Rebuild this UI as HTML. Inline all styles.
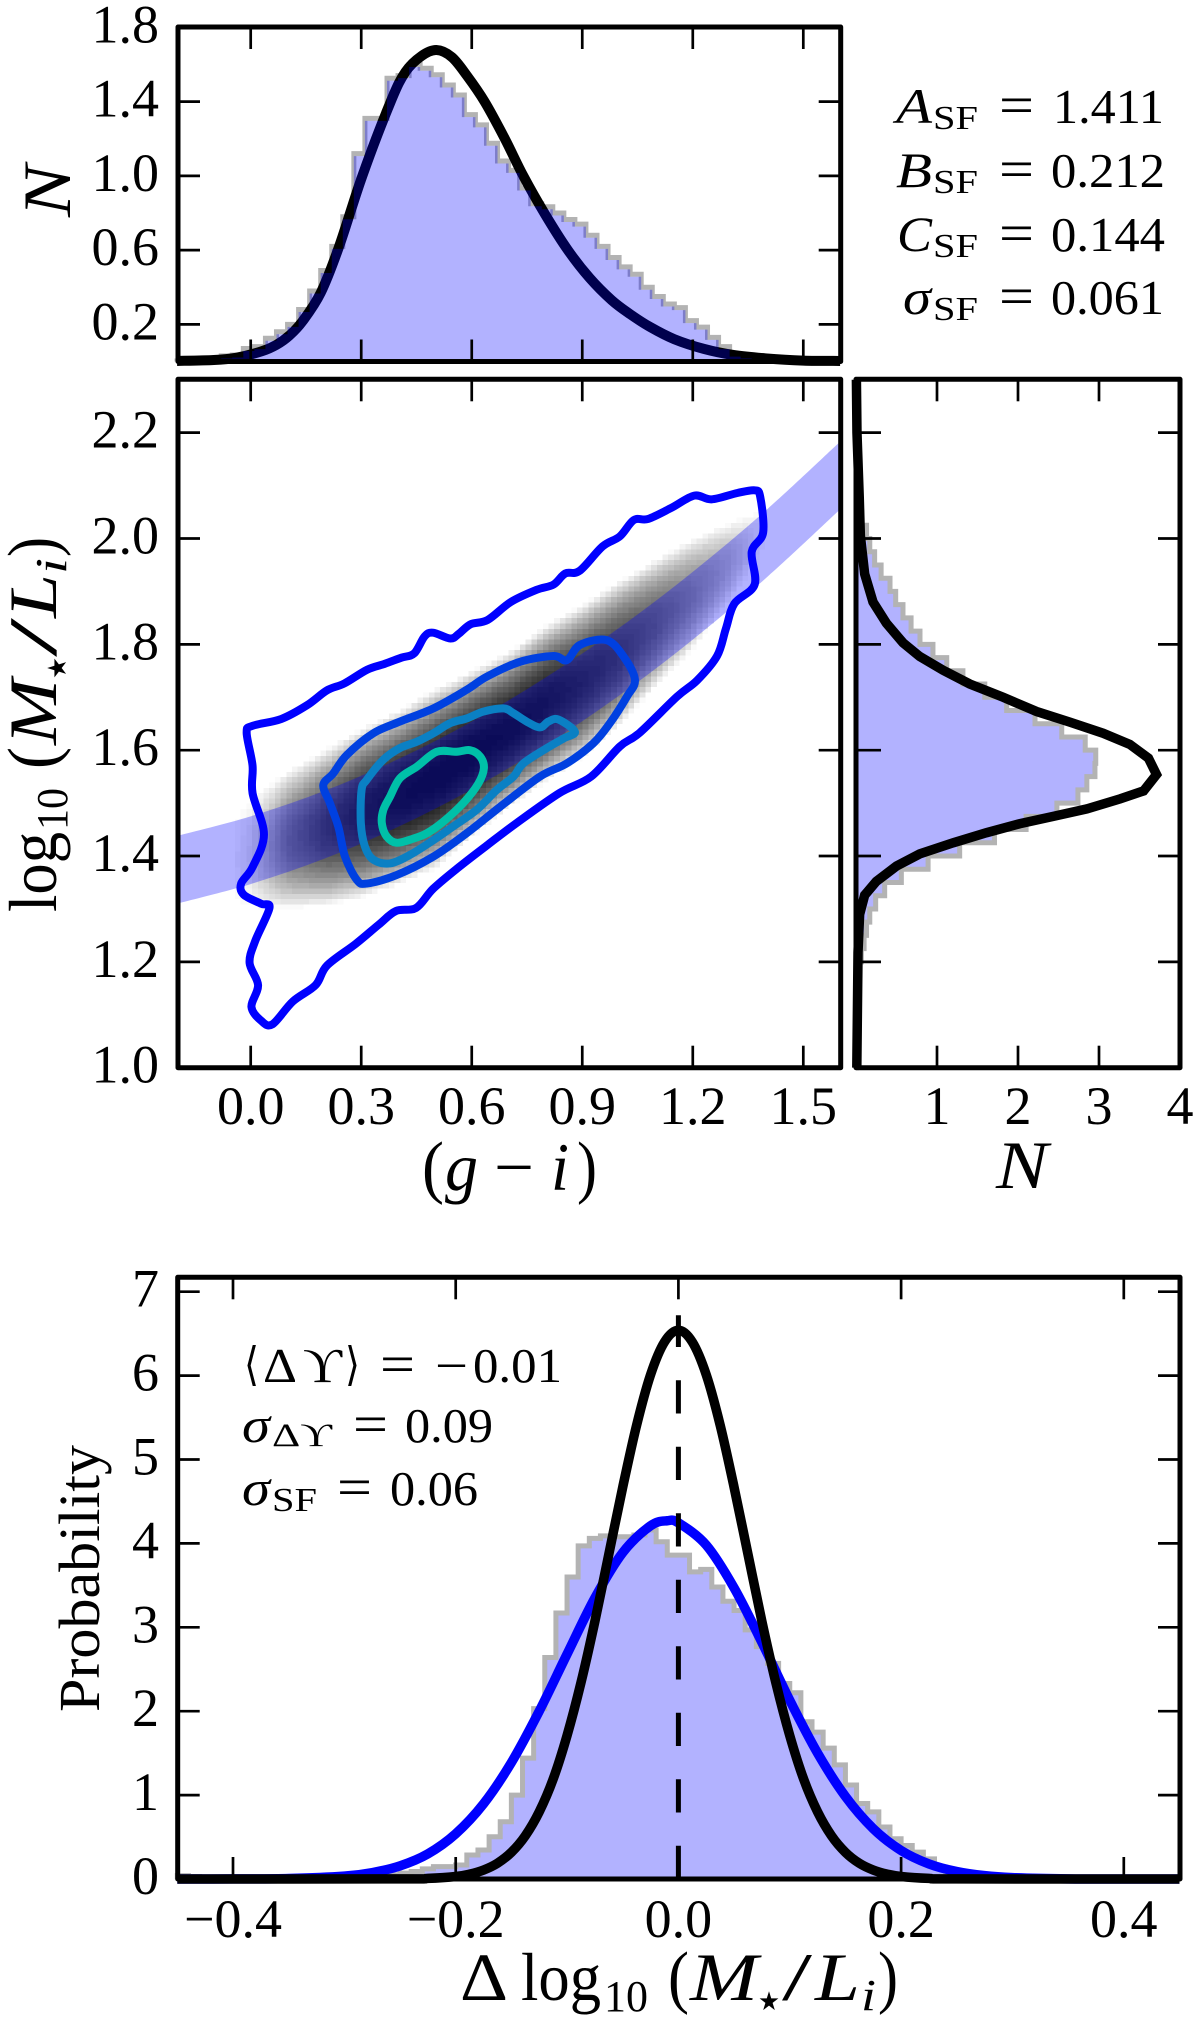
<!DOCTYPE html>
<html lang="en">
<head>
<meta charset="utf-8">
<title>Stellar mass-to-light relation</title>
<style>
html,body{margin:0;padding:0;background:#fff;}
svg{display:block;}
text{font-family:"Liberation Serif","DejaVu Serif",serif;fill:#000;}
.it{font-style:italic;}
</style>
</head>
<body>
<svg id="chart" xmlns="http://www.w3.org/2000/svg" width="1200" height="2023" viewBox="0 0 1200 2023">
<defs>
<clipPath id="midClip"><rect x="178" y="379.5" width="662.5" height="688"/></clipPath>
</defs>
<rect x="0" y="0" width="1200" height="2023" fill="#fff"/>
<g id="topPanel"></g>
<g id="midPanel" ></g>
<g id="sidePanel"></g>
<g id="botPanel"></g>
<g id="axisText" font-size="54"></g>

<text class="it" font-size="68" textLength="52" lengthAdjust="spacingAndGlyphs" transform="translate(70,217) rotate(-90)">N</text>

<g transform="translate(56,912) rotate(-90)">
<text font-size="68" x="0" y="0" textLength="80" lengthAdjust="spacingAndGlyphs">log</text>
<text font-size="44" x="82" y="11" textLength="42" lengthAdjust="spacingAndGlyphs">10</text>
<text font-size="70" x="143" y="0" textLength="22" lengthAdjust="spacingAndGlyphs">(</text>
<text font-size="68" class="it" x="167" y="0" textLength="66" lengthAdjust="spacingAndGlyphs">M</text>
<text font-size="26" x="233" y="10" style="font-family:'DejaVu Sans',sans-serif" textLength="22" lengthAdjust="spacingAndGlyphs">★</text>
<text font-size="68" x="255" y="0" textLength="39" lengthAdjust="spacingAndGlyphs">/</text>
<text font-size="68" class="it" x="294" y="0" textLength="44" lengthAdjust="spacingAndGlyphs">L</text>
<text font-size="44" class="it" x="338" y="10" textLength="16" lengthAdjust="spacingAndGlyphs">i</text>
<text font-size="70" x="355" y="0" textLength="20" lengthAdjust="spacingAndGlyphs">)</text>
</g>

<g>
<text font-size="70" x="422" y="1190" textLength="22" lengthAdjust="spacingAndGlyphs">(</text>
<text font-size="68" class="it" x="445" y="1190" textLength="33" lengthAdjust="spacingAndGlyphs">g</text>
<text font-size="68" x="494" y="1190" textLength="40" lengthAdjust="spacingAndGlyphs">−</text>
<text font-size="68" class="it" x="551" y="1190" textLength="18" lengthAdjust="spacingAndGlyphs">i</text>
<text font-size="70" x="577" y="1190" textLength="20" lengthAdjust="spacingAndGlyphs">)</text>
</g>

<text class="it" font-size="68" x="996" y="1188" textLength="52" lengthAdjust="spacingAndGlyphs">N</text>

<g>
<text class="it" font-size="50" x="896" y="123" textLength="36" lengthAdjust="spacingAndGlyphs">A</text>
<text font-size="34" x="933" y="129" textLength="45" lengthAdjust="spacingAndGlyphs">SF</text>
<text font-size="54" x="999" y="123" textLength="35" lengthAdjust="spacingAndGlyphs">=</text>
<text font-size="49" x="1053" y="123" textLength="111" lengthAdjust="spacingAndGlyphs">1.411</text>
<text class="it" font-size="50" x="896" y="187" textLength="36" lengthAdjust="spacingAndGlyphs">B</text>
<text font-size="34" x="933" y="193" textLength="45" lengthAdjust="spacingAndGlyphs">SF</text>
<text font-size="54" x="999" y="187" textLength="35" lengthAdjust="spacingAndGlyphs">=</text>
<text font-size="49" x="1051" y="187" textLength="114" lengthAdjust="spacingAndGlyphs">0.212</text>
<text class="it" font-size="50" x="897" y="251" textLength="35" lengthAdjust="spacingAndGlyphs">C</text>
<text font-size="34" x="933" y="257" textLength="45" lengthAdjust="spacingAndGlyphs">SF</text>
<text font-size="54" x="999" y="251" textLength="35" lengthAdjust="spacingAndGlyphs">=</text>
<text font-size="49" x="1051" y="251" textLength="114" lengthAdjust="spacingAndGlyphs">0.144</text>
<text class="it" font-size="50" x="903" y="314" textLength="28" lengthAdjust="spacingAndGlyphs">σ</text>
<text font-size="34" x="933" y="320" textLength="45" lengthAdjust="spacingAndGlyphs">SF</text>
<text font-size="54" x="999" y="314" textLength="35" lengthAdjust="spacingAndGlyphs">=</text>
<text font-size="49" x="1051" y="314" textLength="113" lengthAdjust="spacingAndGlyphs">0.061</text>
</g>

<g>
<text font-size="46" x="244" y="1380" style="font-family:'DejaVu Sans',sans-serif" textLength="15" lengthAdjust="spacingAndGlyphs">⟨</text>
<text font-size="49" x="263" y="1382" textLength="34" lengthAdjust="spacingAndGlyphs">Δ</text>
<text font-size="49" x="303" y="1382" textLength="39" lengthAdjust="spacingAndGlyphs">ϒ</text>
<text font-size="46" x="345" y="1380" style="font-family:'DejaVu Sans',sans-serif" textLength="15" lengthAdjust="spacingAndGlyphs">⟩</text>
<text font-size="54" x="380" y="1382" textLength="35" lengthAdjust="spacingAndGlyphs">=</text>
<text font-size="49" x="435" y="1382" textLength="33" lengthAdjust="spacingAndGlyphs">−</text>
<text font-size="49" x="473" y="1382" textLength="89" lengthAdjust="spacingAndGlyphs">0.01</text>
<text class="it" font-size="50" x="242" y="1442" textLength="28" lengthAdjust="spacingAndGlyphs">σ</text>
<text font-size="33" x="272" y="1446" textLength="60" lengthAdjust="spacingAndGlyphs">Δϒ</text>
<text font-size="54" x="353" y="1442" textLength="35" lengthAdjust="spacingAndGlyphs">=</text>
<text font-size="49" x="405" y="1442" textLength="88" lengthAdjust="spacingAndGlyphs">0.09</text>
<text class="it" font-size="50" x="242" y="1505" textLength="28" lengthAdjust="spacingAndGlyphs">σ</text>
<text font-size="34" x="272" y="1511" textLength="45" lengthAdjust="spacingAndGlyphs">SF</text>
<text font-size="54" x="337" y="1505" textLength="35" lengthAdjust="spacingAndGlyphs">=</text>
<text font-size="49" x="390" y="1505" textLength="88" lengthAdjust="spacingAndGlyphs">0.06</text>
</g>

<text font-size="58" textLength="267" lengthAdjust="spacingAndGlyphs" transform="translate(99,1712) rotate(-90)">Probability</text>

<g>
<text font-size="68" x="460" y="2000" textLength="48" lengthAdjust="spacingAndGlyphs">Δ</text>
<text font-size="68" x="521" y="2000" textLength="80" lengthAdjust="spacingAndGlyphs">log</text>
<text font-size="44" x="604" y="2011" textLength="44" lengthAdjust="spacingAndGlyphs">10</text>
<text font-size="70" x="668" y="2000" textLength="21" lengthAdjust="spacingAndGlyphs">(</text>
<text font-size="68" class="it" x="690" y="2000" textLength="68" lengthAdjust="spacingAndGlyphs">M</text>
<text font-size="26" x="758" y="2010" style="font-family:'DejaVu Sans',sans-serif" textLength="22" lengthAdjust="spacingAndGlyphs">★</text>
<text font-size="68" x="782" y="2000" textLength="30" lengthAdjust="spacingAndGlyphs">/</text>
<text font-size="68" class="it" x="815" y="2000" textLength="45" lengthAdjust="spacingAndGlyphs">L</text>
<text font-size="44" class="it" x="861" y="2010" textLength="15" lengthAdjust="spacingAndGlyphs">i</text>
<text font-size="70" x="878" y="2000" textLength="20" lengthAdjust="spacingAndGlyphs">)</text>
</g>
</svg>

<script>
// ---- tick data ----
const colourTicks = [0, 0.3, 0.6, 0.9, 1.2, 1.5];
const colourTickLabels = ['0.0', '0.3', '0.6', '0.9', '1.2', '1.5'];
const topCountTicks = [0.2, 0.6, 1.0, 1.4, 1.8];
const topCountTickLabels = ['0.2', '0.6', '1.0', '1.4', '1.8'];
const massTicks = [1.0, 1.2, 1.4, 1.6, 1.8, 2.0, 2.2];
const massTickLabels = ['1.0', '1.2', '1.4', '1.6', '1.8', '2.0', '2.2'];
const sideCountTicks = [1, 2, 3, 4];
const sideCountTickLabels = ['1', '2', '3', '4'];
const residualTicks = [-0.4, -0.2, 0, 0.2, 0.4];
const residualTickLabels = ['−0.4', '−0.2', '0.0', '0.2', '0.4'];
const probabilityTicks = [0, 1, 2, 3, 4, 5, 6, 7];
const probabilityTickLabels = ['0', '1', '2', '3', '4', '5', '6', '7'];

// ---- top panel: colour distribution ----
const topHistStart = -0.2;
const topHistWidth = 0.03;
const topHistValues = [.003,.003,.006,.012,.03,.035,.07,.08,.125,.16,.2,.28,.38,.49,.62,.78,1.12,1.31,1.31,1.526,1.54,1.60,1.58,1.545,1.49,1.436,1.33,1.275,1.176,1.08,1.03,.935,.85,.834,.80,.765,.74,.68,.62,.56,.51,.47,.40,.35,.31,.29,.22,.185,.13,.08,.04,.03,.025,.018,.012,.008,.005,.003,.002,.001];
const topCurveColour = [-.2,-.1,-.04,.03,.07,.105,.14,.19,.24,.303,.38,.42,.463,.504,.546,.587,.635,.69,.74,.80,.861,.92,.98,1.03,1.085,1.15,1.23,1.31,1.397,1.5,1.6];
const topCurveCount = [.003,.008,.02,.055,.09,.14,.215,.37,.62,1.0,1.4,1.56,1.645,1.678,1.64,1.54,1.40,1.20,1.00,.79,.60,.45,.33,.255,.185,.12,.068,.035,.017,.005,.003];

// ---- main panel ----
const bandColour = [-.2,0,.2,.4,.6,.8,1.0,1.2,1.4,1.6];
const bandUpper = [1.438,1.475,1.523,1.583,1.654,1.737,1.831,1.937,2.054,2.183];
const bandLower = [1.310,1.347,1.395,1.455,1.526,1.609,1.703,1.809,1.926,2.055];
const heatColour = [-.05,0,.1,.2,.3,.4,.5,.6,.7,.8,.9,1.0,1.1,1.2,1.3,1.4];
const heatCentre = [1.39,1.405,1.43,1.4525,1.48,1.51,1.545,1.5925,1.6375,1.6875,1.73,1.7825,1.84,1.895,1.955,2.02];
const heatHalfWidth = [.08,.105,.13,.1475,.16,.165,.17,.158,.1475,.1475,.145,.1375,.12,.105,.075,.04];
const heatPeak = [0,.1,.5,.7,.82,.88,.9,.9,.88,.85,.78,.7,.58,.42,.25,0];
const contourOuter = [[-.011,1.633],[.005,1.646],[.083,1.659],[.153,1.685],[.207,1.713],[.254,1.726],[.316,1.752],[.363,1.763],[.410,1.775],[.444,1.783],[.472,1.815],[.495,1.822],[.542,1.811],[.565,1.820],[.597,1.838],[.643,1.846],[.706,1.880],[.776,1.903],[.822,1.913],[.854,1.934],[.893,1.939],[.955,1.985],[1.002,2.004],[1.040,2.035],[1.079,2.037],[1.142,2.058],[1.204,2.081],[1.251,2.074],[1.321,2.086],[1.368,2.091],[1.383,2.079],[1.391,2.011],[1.360,1.975],[1.368,1.913],[1.313,1.877],[1.290,1.830],[1.266,1.778],[1.212,1.732],[1.157,1.701],[1.056,1.633],[1.002,1.607],[.924,1.550],[.838,1.519],[.721,1.462],[.643,1.421],[.565,1.379],[.495,1.338],[.449,1.302],[.394,1.296],[.347,1.270],[.285,1.234],[.207,1.193],[.176,1.156],[.114,1.125],[.059,1.082],[.028,1.089],[.002,1.115],[.020,1.156],[-.003,1.198],[.012,1.239],[.051,1.302],[.028,1.310],[-.019,1.327],[-.026,1.348],[.005,1.379],[.036,1.441],[.005,1.519],[.005,1.571]];
const contourSecond = [[.197,1.534],[.224,1.556],[.261,1.591],[.333,1.632],[.405,1.654],[.496,1.679],[.586,1.714],[.641,1.739],[.731,1.767],[.822,1.778],[.858,1.770],[.894,1.799],[.966,1.808],[1.012,1.777],[1.043,1.733],[1.021,1.701],[.975,1.651],[.930,1.613],[.858,1.575],[.785,1.550],[.677,1.493],[.586,1.443],[.496,1.399],[.396,1.364],[.315,1.348],[.288,1.355],[.256,1.399],[.238,1.455],[.215,1.500]];
const contourThird = [[.301,1.525],[.315,1.544],[.360,1.582],[.405,1.604],[.451,1.616],[.496,1.632],[.541,1.651],[.586,1.660],[.632,1.673],[.686,1.679],[.713,1.670],[.749,1.654],[.785,1.643],[.808,1.654],[.835,1.658],[.880,1.635],[.849,1.622],[.804,1.604],[.740,1.575],[.713,1.550],[.668,1.525],[.613,1.487],[.550,1.456],[.496,1.430],[.432,1.402],[.378,1.386],[.333,1.393],[.310,1.418],[.299,1.462]];
const contourInner = [[.360,1.487],[.378,1.512],[.405,1.547],[.451,1.569],[.505,1.597],[.559,1.597],[.595,1.600],[.623,1.588],[.633,1.566],[.618,1.537],[.577,1.500],[.523,1.465],[.478,1.443],[.442,1.433],[.396,1.425],[.369,1.437],[.356,1.462]];

// ---- side panel: mass-to-light distribution ----
const sideHistStart = 1.0;
const sideHistWidth = 0.025;
const sideHistValues = [.005,.01,.015,.02,.025,.03,.04,.05,.066,.1,.13,.17,.243,.354,.56,.89,1.28,1.71,2.1,2.48,2.74,2.85,2.95,2.96,2.83,2.54,2.21,1.86,1.59,1.32,1.12,.95,.79,.68,.58,.49,.42,.31,.23,.17,.13,.07,.04,.02,.01,.005,.003,.002,.001,.001,0,0];
const sideCurveMass = [2.3,2.2,2.078,2.005,1.933,1.88,1.84,1.803,1.777,1.751,1.725,1.70,1.673,1.653,1.632,1.611,1.585,1.554,1.523,1.508,1.489,1.475,1.461,1.444,1.425,1.404,1.381,1.352,1.326,1.29,1.218,1.0];
const sideCurveCount = [.005,.012,.04,.054,.107,.21,.375,.58,.787,1.075,1.405,1.817,2.23,2.64,3.05,3.38,3.61,3.71,3.55,3.26,2.85,2.435,2.02,1.61,1.2,.787,.5,.25,.107,.045,.025,.01];

// ---- bottom panel: residuals ----
const residualHistStart = -0.45;
const residualHistWidth = 0.01;
const residualHistValues = [.04,.03,.01,.003,.003,.003,.003,.003,.003,.003,.003,.003,.003,.003,.003,.003,.01,.02,.03,.05,.07,.09,.12,.147,.147,.167,.286,.345,.504,.683,1.0,1.44,2.03,2.64,3.17,3.6,3.97,4.06,4.09,4.08,4.08,4.1,4.16,4.02,3.86,3.86,3.66,3.69,3.48,3.31,3.2,2.97,2.77,2.57,2.33,2.22,1.875,1.75,1.56,1.36,1.12,.9,.8,.62,.48,.40,.32,.24,.14,.09,.06,.04,.03,.02,.01,.003,.003,.003,.003,.003,.003,.003,.003,.003,.003,.003,.003,.003,.003,.003];
const blueCurveResidual = [-.45,-.4,-.35,-.3,-.275,-.25,-.225,-.2,-.175,-.15,-.125,-.1,-.075,-.05,-.025,-.01,0,.025,.05,.075,.1,.125,.15,.175,.2,.225,.25,.275,.3,.35,.4,.45];
const blueCurveProbability = [0,.001,.006,.034,.076,.157,.30,.539,.896,1.388,2.0,2.68,3.35,3.89,4.21,4.27,4.245,3.98,3.47,2.82,2.13,1.50,.984,.60,.34,.18,.089,.04,.017,.002,0,0];
const blackCurveResidual = [-.45,-.25,-.225,-.2,-.1875,-.175,-.1625,-.15,-.1375,-.125,-.1125,-.1,-.0875,-.075,-.0625,-.05,-.0375,-.025,-.0125,0,.0125,.025,.0375,.05,.0625,.075,.0875,.1,.1125,.125,.1375,.15,.1625,.175,.1875,.2,.225,.25,.45];
const blackCurveProbability = [0,.001,.007,.03,.058,.107,.188,.318,.515,.80,1.19,1.71,2.34,3.07,3.87,4.67,5.41,6.01,6.40,6.54,6.40,6.01,5.41,4.67,3.87,3.07,2.34,1.71,1.19,.80,.515,.318,.188,.107,.058,.03,.007,.001,0];
const referenceLineResidual = 0;
const referenceLineTop = 6.72;

// ---- axis functions ----
function colourX(v) { return 250.7 + 368.4 * v; }
function topY(v) { return 361.5 - 185.6 * v; }
function massY(v) { return 1067.7 - 529.2 * (v - 1); }
function sideX(v) { return 856 + 81 * v; }
function residualX(v) { return 678.4 + 1113.5 * v; }
function probabilityY(v) { return 1879 - 83.9 * v; }

const SVGNS = 'http://www.w3.org/2000/svg';
function make(parent, tag) {
  const e = document.createElementNS(SVGNS, tag);
  parent.appendChild(e);
  return e;
}
function setAll(e, attrs) {
  for (const k in attrs) e.setAttribute(k, attrs[k]);
}
function smoothPath(pts, closed) {
  const n = pts.length;
  const at = function (i) {
    if (closed) return pts[(i + n) % n];
    return pts[Math.max(0, Math.min(n - 1, i))];
  };
  let d = 'M' + pts[0][0].toFixed(2) + ' ' + pts[0][1].toFixed(2);
  const last = closed ? n : n - 1;
  for (let i = 0; i < last; i++) {
    const p0 = at(i - 1), p1 = at(i), p2 = at(i + 1), p3 = at(i + 2);
    const c1x = p1[0] + (p2[0] - p0[0]) / 6, c1y = p1[1] + (p2[1] - p0[1]) / 6;
    const c2x = p2[0] - (p3[0] - p1[0]) / 6, c2y = p2[1] - (p3[1] - p1[1]) / 6;
    d += 'C' + c1x.toFixed(2) + ' ' + c1y.toFixed(2) + ' ' + c2x.toFixed(2) + ' ' + c2y.toFixed(2) + ' ' + p2[0].toFixed(2) + ' ' + p2[1].toFixed(2);
  }
  return closed ? d + 'Z' : d;
}
function histPathH(start, width, vals, xf, yf) {
  let d = 'M' + xf(start).toFixed(2) + ' ' + yf(0).toFixed(2);
  vals.forEach(function (v, i) {
    const a = xf(start + i * width), b = xf(start + (i + 1) * width), y = yf(v);
    d += 'L' + a.toFixed(2) + ' ' + y.toFixed(2) + 'L' + b.toFixed(2) + ' ' + y.toFixed(2);
  });
  return d + 'L' + xf(start + vals.length * width).toFixed(2) + ' ' + yf(0).toFixed(2);
}
function histPathV(start, width, vals, xf, yf) {
  let d = 'M' + xf(0).toFixed(2) + ' ' + yf(start).toFixed(2);
  vals.forEach(function (v, i) {
    const a = yf(start + i * width), b = yf(start + (i + 1) * width), x = xf(v);
    d += 'L' + x.toFixed(2) + ' ' + a.toFixed(2) + 'L' + x.toFixed(2) + ' ' + b.toFixed(2);
  });
  return d + 'L' + xf(0).toFixed(2) + ' ' + yf(start + vals.length * width).toFixed(2);
}
function interp(xs, ys, x) {
  if (x <= xs[0]) return ys[0];
  for (let i = 1; i < xs.length; i++) {
    if (x <= xs[i]) {
      const t = (x - xs[i - 1]) / (xs[i] - xs[i - 1]);
      return ys[i - 1] + t * (ys[i] - ys[i - 1]);
    }
  }
  return ys[ys.length - 1];
}
const GRAY = '#b3b3b3', FILL = 'rgba(0,0,255,0.3)';

// ---- TOP PANEL ----
const topPanel = document.getElementById('topPanel');
const topOutline = make(topPanel, 'path');


setAll(topOutline, {d: histPathH(topHistStart, topHistWidth, topHistValues, colourX, topY), fill: 'none', stroke: GRAY, 'stroke-width': 5});
const topCurve = make(topPanel, 'path');


setAll(topCurve, {d: smoothPath(topCurveColour.map(function (x, i) { return [colourX(x), topY(topCurveCount[i])]; }), false), fill: 'none', stroke: '#000', 'stroke-width': 10});
const topFill = make(topPanel, 'path');


setAll(topFill, {d: histPathH(topHistStart, topHistWidth, topHistValues, colourX, topY) + 'Z', fill: FILL, stroke: 'none', transform: 'translate(0,2.5)'});

// ---- MAIN PANEL ----
const midPanel = document.getElementById('midPanel');
const midClipped = make(midPanel, 'g');


midClipped.setAttribute('clip-path', 'url(#midClip)');
const heatGroup = make(midClipped, 'g');


const LEVELS = 48, cellW = 5.7, cellH = 5.3;
const levelPaths = [];
for (let px = 178; px < 840.5; px += cellW) {
  const cx = (px + cellW / 2 - 250.7) / 368.4;
  const centre = interp(heatColour, heatCentre, cx);
  const half = interp(heatColour, heatHalfWidth, cx);
  const peak = interp(heatColour, heatPeak, cx);
  if (peak <= 0) continue;
  for (let py = 379.7; py < 1067.5; py += cellH) {
    const m = 1 + (1067.7 - py - cellH / 2) / 529.2;
    const u = Math.abs(m - centre) / half;
    if (u >= 1) continue;
    const dark = Math.min(1, peak * (1 - u * u) * 1.05);
    const lvl = Math.round(dark * LEVELS);
    if (lvl < 1) continue;
    levelPaths[lvl] = (levelPaths[lvl] || '') + 'M' + px.toFixed(1) + ' ' + py.toFixed(1) + 'h' + cellW + 'v' + cellH + 'h-' + cellW + 'z';
  }
}
levelPaths.forEach(function (d, lvl) {
  if (!d) return;
  const cell = make(heatGroup, 'path');
  
  
  const g = Math.round(255 * (1 - lvl / LEVELS));
  setAll(cell, {d: d, fill: 'rgb(' + g + ',' + g + ',' + g + ')', 'shape-rendering': 'crispEdges'});
});
const band = make(midClipped, 'path');


const upperPts = bandColour.map(function (x, i) { return [colourX(x), massY(bandUpper[i])]; });
const lowerPts = bandColour.map(function (x, i) { return [colourX(x), massY(bandLower[i])]; }).reverse();
setAll(band, {d: smoothPath(upperPts, false) + 'L' + smoothPath(lowerPts, false).slice(1) + 'Z', fill: FILL});
function contourPath(c) {
  return smoothPath(c.map(function (p) { return [colourX(p[0]), massY(p[1])]; }), true);
}
const c1 = make(midPanel, 'path');


setAll(c1, {d: contourPath(contourOuter), fill: 'none', stroke: '#0000ff', 'stroke-width': 8, 'stroke-linejoin': 'round'});
const c2 = make(midPanel, 'path');


setAll(c2, {d: contourPath(contourSecond), fill: 'none', stroke: '#0040e0', 'stroke-width': 8, 'stroke-linejoin': 'round'});
const c3 = make(midPanel, 'path');


setAll(c3, {d: contourPath(contourThird), fill: 'none', stroke: '#0a80c4', 'stroke-width': 8, 'stroke-linejoin': 'round'});
const c4 = make(midPanel, 'path');


setAll(c4, {d: contourPath(contourInner), fill: 'none', stroke: '#00c0a8', 'stroke-width': 8, 'stroke-linejoin': 'round'});

// ---- SIDE PANEL ----
const sidePanel = document.getElementById('sidePanel');
const sideFill = make(sidePanel, 'path');


setAll(sideFill, {d: histPathV(sideHistStart, sideHistWidth, sideHistValues, sideX, massY) + 'Z', fill: FILL});
const sideOutline = make(sidePanel, 'path');


setAll(sideOutline, {d: histPathV(sideHistStart, sideHistWidth, sideHistValues, sideX, massY), fill: 'none', stroke: GRAY, 'stroke-width': 5});
const sideCurve = make(sidePanel, 'polyline');


setAll(sideCurve, {points: sideCurveMass.map(function (m, i) { return sideX(sideCurveCount[i]).toFixed(2) + ',' + massY(m).toFixed(2); }).join(' '), fill: 'none', stroke: '#000', 'stroke-width': 9.5, 'stroke-linejoin': 'miter'});

// ---- BOTTOM PANEL ----
const botPanel = document.getElementById('botPanel');
const botFill = make(botPanel, 'path');


setAll(botFill, {d: histPathH(residualHistStart, residualHistWidth, residualHistValues, residualX, probabilityY) + 'Z', fill: FILL});
const botOutline = make(botPanel, 'path');


setAll(botOutline, {d: histPathH(residualHistStart, residualHistWidth, residualHistValues, residualX, probabilityY), fill: 'none', stroke: GRAY, 'stroke-width': 5});
const blueCurve = make(botPanel, 'path');


setAll(blueCurve, {d: smoothPath(blueCurveResidual.map(function (x, i) { return [residualX(x), probabilityY(blueCurveProbability[i])]; }), false), fill: 'none', stroke: '#0000ff', 'stroke-width': 9.5});
const blackCurve = make(botPanel, 'path');


setAll(blackCurve, {d: smoothPath(blackCurveResidual.map(function (x, i) { return [residualX(x), probabilityY(blackCurveProbability[i])]; }), false), fill: 'none', stroke: '#000', 'stroke-width': 9.5});
const refLine = make(botPanel, 'line');


setAll(refLine, {x1: residualX(referenceLineResidual), x2: residualX(referenceLineResidual), y1: probabilityY(0), y2: probabilityY(referenceLineTop), stroke: '#000', 'stroke-width': 5, 'stroke-dasharray': '33.2 33.3'});

// ---- TICKS, SPINES AND LABELS ----
const TICK = 22, TW = 2.7, SW = 5;
function tickLine(parent, x1, y1, x2, y2) {
  const t = make(parent, 'line');
  setAll(t, {x1: x1, y1: y1, x2: x2, y2: y2, stroke: '#000', 'stroke-width': TW});
  return t;
}
function spineRect(parent, x0, y0, x1, y1) {
  const r = make(parent, 'rect');
  setAll(r, {x: x0, y: y0, width: x1 - x0, height: y1 - y0, fill: 'none', stroke: '#000', 'stroke-width': SW, 'stroke-linejoin': 'round'});
  return r;
}
const axisText = document.getElementById('axisText');

// top panel ticks
colourTicks.forEach(function (v) {
  const a = tickLine(topPanel, colourX(v), 27, colourX(v), 27 + TICK);
  
  
  const b = tickLine(topPanel, colourX(v), 361.5, colourX(v), 361.5 - TICK);
  
  
});
topCountTicks.forEach(function (v, i) {
  const a = tickLine(topPanel, 178, topY(v), 178 + TICK, topY(v));
  
  
  const b = tickLine(topPanel, 840.7, topY(v), 840.7 - TICK, topY(v));
  
  
  const t = make(axisText, 'text');
  
  
  setAll(t, {x: 159, y: topY(v) + 15, 'text-anchor': 'end'});
  t.textContent = topCountTickLabels[i];
});
const topSpine = spineRect(topPanel, 178, 27, 840.7, 361.5);



// main panel ticks
colourTicks.forEach(function (v, i) {
  const a = tickLine(midPanel, colourX(v), 379.3, colourX(v), 379.3 + TICK);
  
  
  const b = tickLine(midPanel, colourX(v), 1067.7, colourX(v), 1067.7 - TICK);
  
  
  const t = make(axisText, 'text');
  
  
  setAll(t, {x: colourX(v), y: 1124, 'text-anchor': 'middle'});
  t.textContent = colourTickLabels[i];
});
massTicks.forEach(function (v, i) {
  const a = tickLine(midPanel, 178, massY(v), 178 + TICK, massY(v));
  
  
  const b = tickLine(midPanel, 840.7, massY(v), 840.7 - TICK, massY(v));
  
  
  const c = tickLine(sidePanel, 856, massY(v), 856 + TICK + 3, massY(v));
  
  
  const d = tickLine(sidePanel, 1180, massY(v), 1180 - TICK, massY(v));
  
  
  const t = make(axisText, 'text');
  
  
  setAll(t, {x: 159, y: massY(v) + 15, 'text-anchor': 'end'});
  t.textContent = massTickLabels[i];
});
const midSpine = spineRect(midPanel, 178, 379.3, 840.7, 1067.7);



// side panel ticks
sideCountTicks.forEach(function (v, i) {
  const a = tickLine(sidePanel, sideX(v), 379.3, sideX(v), 379.3 + TICK);
  
  
  const b = tickLine(sidePanel, sideX(v), 1067.7, sideX(v), 1067.7 - TICK);
  
  
  const t = make(axisText, 'text');
  
  
  setAll(t, {x: sideX(v), y: 1124, 'text-anchor': 'middle'});
  t.textContent = sideCountTickLabels[i];
});
const sideSpine = spineRect(sidePanel, 856, 379.3, 1180, 1067.7);



// bottom panel ticks
residualTicks.forEach(function (v, i) {
  const a = tickLine(botPanel, residualX(v), 1277.3, residualX(v), 1277.3 + TICK);
  
  
  const b = tickLine(botPanel, residualX(v), 1879, residualX(v), 1879 - TICK);
  
  
  const t = make(axisText, 'text');
  
  
  setAll(t, {x: residualX(v), y: 1937, 'text-anchor': 'middle'});
  t.textContent = residualTickLabels[i];
});
probabilityTicks.forEach(function (v, i) {
  const a = tickLine(botPanel, 177.7, probabilityY(v), 177.7 + TICK, probabilityY(v));
  
  
  const b = tickLine(botPanel, 1180, probabilityY(v), 1180 - TICK, probabilityY(v));
  
  
  const t = make(axisText, 'text');
  
  
  setAll(t, {x: 159, y: probabilityY(v) + 15, 'text-anchor': 'end'});
  t.textContent = probabilityTickLabels[i];
});
const botSpine = spineRect(botPanel, 177.7, 1277.3, 1180, 1879);


</script>
</body>
</html>
